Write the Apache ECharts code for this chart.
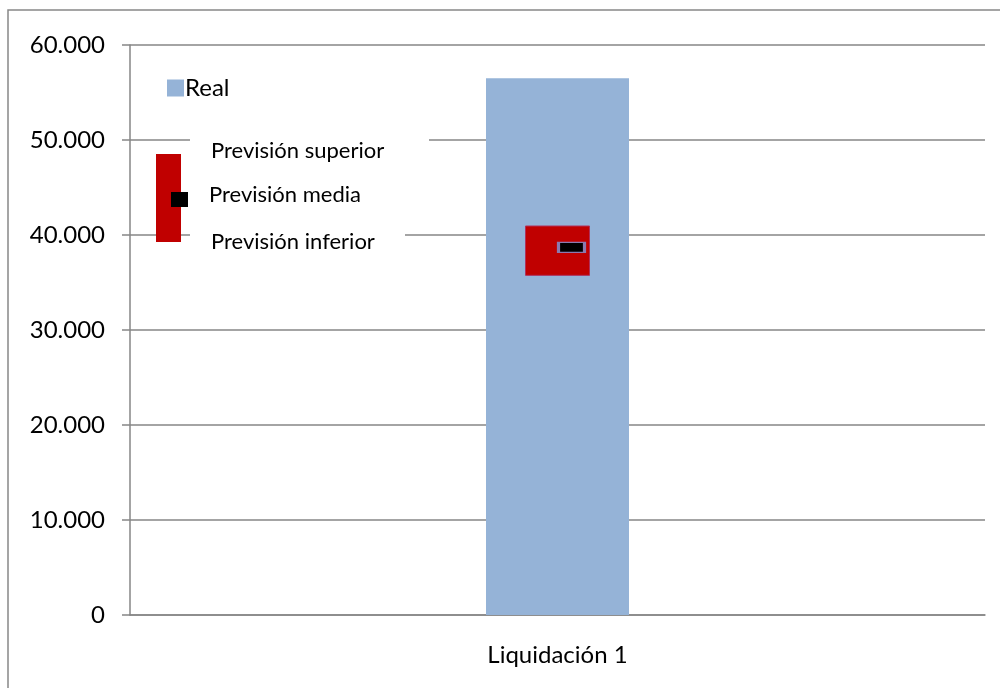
<!DOCTYPE html>
<html>
<head>
<meta charset="utf-8">
<script src="https://cdn.jsdelivr.net/npm/echarts@6/dist/echarts.min.js"></script>
<style>
  html, body { margin: 0; padding: 0; background: #fff; }
  #container { width: 1000px; height: 688px; }
</style>
</head>
<body>
<div id="container"></div>
<script>
// datos
var categories = ['Liquidación 1'];
var realValues = [56500];
var prevInferior = [35700];
var prevSuperior = [41000];
var prevMedia = [38700];
var yTicks = [0, 10000, 20000, 30000, 40000, 50000, 60000];

var dom = document.getElementById('container');
var myChart = echarts.init(dom);

var rango = prevSuperior.map(function (v, i) { return v - prevInferior[i]; });
var font = 'Lato';
var axisGray = '#868686';

function fmt(v) {
    return String(v).replace(/\B(?=(\d{3})+(?!\d))/g, '.');
}

var option = {
    animation: false,
    textStyle: { fontFamily: font },
    grid: { left: 130, right: 15, top: 45, bottom: 73 },
    legend: {
        data: ['Real'],
        left: 162, top: 71,
        itemWidth: 17, itemHeight: 17, itemGap: 4,
        icon: 'rect',
        textStyle: { fontSize: 24, color: '#000', fontFamily: font, padding: [0, 0, 0, -4] }
    },
    xAxis: [{
        type: 'category',
        data: categories,
        axisLine: { lineStyle: { color: axisGray, width: 1.5 } },
        axisTick: { length: 9, lineStyle: { color: axisGray, width: 1.5 } },
        axisLabel: { fontSize: 24, color: '#000', margin: 28, fontFamily: font }
    }, {
        type: 'category',
        data: categories,
        show: false,
        position: 'bottom'
    }],
    yAxis: {
        type: 'value',
        min: yTicks[0],
        max: yTicks[yTicks.length - 1],
        interval: 10000,
        axisLine: { show: true, lineStyle: { color: axisGray, width: 1.5 } },
        axisTick: { show: true, length: 8, lineStyle: { color: axisGray, width: 1.5 } },
        splitLine: { lineStyle: { color: axisGray, width: 1.5 } },
        axisLabel: { fontSize: 24, color: '#000', margin: 25, fontFamily: font, formatter: fmt }
    },
    series: [
        {
            name: 'Real',
            type: 'bar',
            xAxisIndex: 0,
            barWidth: 143,
            itemStyle: { color: '#95B3D7' },
            data: realValues,
            z: 2
        },
        {
            name: 'base',
            type: 'bar',
            xAxisIndex: 1,
            stack: 'prev',
            barWidth: 65,
            itemStyle: { color: 'rgba(0,0,0,0)' },
            data: prevInferior,
            z: 3
        },
        {
            name: 'Previsión',
            type: 'bar',
            xAxisIndex: 1,
            stack: 'prev',
            barWidth: 65,
            itemStyle: { color: '#C00000', borderColor: '#b0305a', borderWidth: 1 },
            data: rango,
            z: 3
        },
        {
            name: 'Previsión media',
            type: 'scatter',
            xAxisIndex: 1,
            symbol: 'rect',
            symbolSize: [26, 10],
            symbolOffset: [14, 0],
            itemStyle: { color: '#000', borderColor: '#8a7ab0', borderWidth: 2, opacity: 1 },
            data: prevMedia,
            z: 5
        }
    ],
    graphic: [
        // marco exterior
        { type: 'rect', z: 100, shape: { x: 8, y: 10, width: 1100, height: 800 },
          style: { fill: 'none', stroke: '#888', lineWidth: 1.5 } },
        // cajas blancas tras los textos
        { type: 'rect', z: 100, shape: { x: 190, y: 128, width: 239, height: 40 }, style: { fill: '#fff' } },
        { type: 'rect', z: 100, shape: { x: 190, y: 222, width: 215, height: 42 }, style: { fill: '#fff' } },
        // leyenda de prevision
        { type: 'rect', z: 101, shape: { x: 156, y: 154, width: 25, height: 88 }, style: { fill: '#C00000' } },
        { type: 'rect', z: 102, shape: { x: 171, y: 192, width: 17, height: 15 }, style: { fill: '#000' } },
        { type: 'text', z: 103, left: 211, top: 140,
          style: { text: 'Previsión superior', fontSize: 22, fontFamily: font, fill: '#000' } },
        { type: 'text', z: 103, left: 209, top: 184,
          style: { text: 'Previsión media', fontSize: 22, fontFamily: font, fill: '#000' } },
        { type: 'text', z: 103, left: 211, top: 231,
          style: { text: 'Previsión inferior', fontSize: 22, fontFamily: font, fill: '#000' } }
    ]
};

myChart.setOption(option, true);
</script>
</body>
</html>
